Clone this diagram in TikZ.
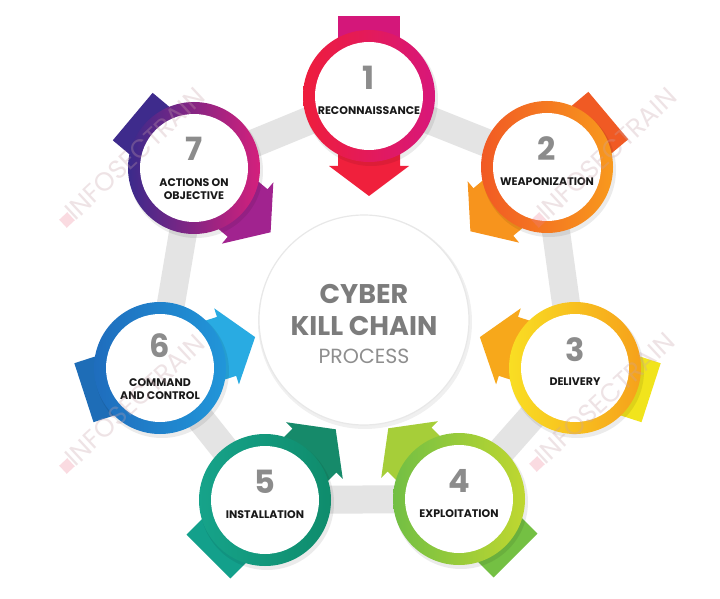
\documentclass[tikz,border=0pt]{standalone}
\usepackage{fontspec}
\setmainfont{Poppins}
\usetikzlibrary{calc}
\definecolor{bandgray}{HTML}{E4E4E4}
\definecolor{numgray}{HTML}{8C8C8C}
\definecolor{titlegray}{HTML}{7C7C7C}
\definecolor{procgray}{HTML}{8E8E8E}
\definecolor{wmcol}{HTML}{C9A3AA}
\definecolor{wmpink}{HTML}{EE7F95}
% ring / head / tail colours
\definecolor{rA1}{HTML}{EE1D3C}\definecolor{rB1}{HTML}{D8177A}\definecolor{h1}{HTML}{F0203C}\definecolor{t1}{HTML}{D4177A}
\definecolor{rA2}{HTML}{F15A24}\definecolor{rB2}{HTML}{F8991D}\definecolor{h2}{HTML}{F7941D}\definecolor{t2}{HTML}{F05A24}
\definecolor{rA3}{HTML}{F9DE23}\definecolor{rB3}{HTML}{F6A11B}\definecolor{h3}{HTML}{F7A81B}\definecolor{t3}{HTML}{F1E41C}
\definecolor{rA4}{HTML}{72BF44}\definecolor{rB4}{HTML}{BFD730}\definecolor{h4}{HTML}{A6CE39}\definecolor{t4}{HTML}{74C043}
\definecolor{rA5}{HTML}{16A38A}\definecolor{rB5}{HTML}{0F8C6C}\definecolor{h5}{HTML}{168A6A}\definecolor{t5}{HTML}{13A08B}
\definecolor{rA6}{HTML}{1F6DBD}\definecolor{rB6}{HTML}{2196D9}\definecolor{h6}{HTML}{29ABE2}\definecolor{t6}{HTML}{1E6DB7}
\definecolor{rA7}{HTML}{3B2A8B}\definecolor{rB7}{HTML}{D4207C}\definecolor{h7}{HTML}{A1238F}\definecolor{t7}{HTML}{3E2B8C}

\tikzset{
  band/.style={line width=28pt, bandgray, line join=round},
  numtext/.style={font=\bfseries\fontsize{32}{32}\selectfont, text=numgray, inner sep=0pt},
  labtext/.style={font=\bfseries\fontsize{11}{13}\selectfont, text=black!90, align=center, inner sep=0pt, anchor=north},
  innerwhite/.style={circle, fill=white, minimum size=108pt, inner sep=0pt},
  wmtext/.style={font=\fontsize{26}{26}\selectfont, text=wmcol, text opacity=0.3, rotate=43, anchor=south west, inner sep=0pt},
  wmlogo/.style={fill=wmpink, opacity=0.28, rotate=43, minimum size=11pt, inner sep=0pt}
}

% #1 id, #2 angle, #3 number, #4 label, #5 number offset
\newcommand\killstage[5]{%
  \begin{scope}[shift={(c#1)}, rotate=#2]
    \fill[t#1] (-80,-31) rectangle (0,31);
    \fill[h#1] (0,-31) -- (70,-31) -- (70,-40) -- (100,0) -- (70,40) -- (70,31) -- (0,31) -- cycle;
  \end{scope}
  \fill[black, opacity=0.08] ([xshift=2pt,yshift=-3pt]c#1) circle (67);
  \shade[left color=rA#1, right color=rB#1] (c#1) circle (66);
  \node[innerwhite] (s#1) at (c#1) {};
  \node[numtext] (n#1) at ([yshift=#5]c#1) {#3};
  \node[labtext] (l#1) at ([yshift=-10pt]c#1) {#4};
}

\begin{document}
\begin{tikzpicture}[x=1pt,y=1pt]
\useasboundingbox (0,0) rectangle (720,598);
\fill[white] (0,0) rectangle (720,598);

\coordinate (c1) at (369,502);
\coordinate (c2) at (547,431);
\coordinate (c3) at (575,230);
\coordinate (c4) at (459,99);
\coordinate (c5) at (265,98);
\coordinate (c6) at (160,230);
\coordinate (c7) at (194,430);

% grey heptagon band
\draw[band] (c1) -- (c2) -- (c3) -- (c4) -- (c5) -- (c6) -- (c7) -- cycle;

% central circle
\fill[black, opacity=0.06] (365,276) circle (107);
\node[circle, fill=white, draw=black!9, line width=1.2pt, minimum size=210pt, inner sep=0pt] (center) at (364,278) {};
\node[font=\bfseries\fontsize{27}{27}\selectfont, text=titlegray, inner sep=0pt] (t1) at (364,304) {CYBER};
\node[font=\bfseries\fontsize{27}{27}\selectfont, text=titlegray, inner sep=0pt] (t2) at (364,272) {KILL CHAIN};
\node[font=\fontsize{20.5}{20.5}\selectfont, text=procgray, inner sep=0pt] (t3) at (364,242) {PROCESS};

% stages
\killstage{1}{270}{1}{RECONNAISSANCE}{18pt}
\killstage{2}{220}{2}{WEAPONIZATION}{18pt}
\killstage{3}{162}{3}{DELIVERY}{18pt}
\killstage{4}{135}{4}{EXPLOITATION}{18pt}
\killstage{5}{45}{5}{INSTALLATION}{18pt}
\killstage{6}{18}{6}{COMMAND\\AND CONTROL}{22pt}
\killstage{7}{-40}{7}{ACTIONS ON\\OBJECTIVE}{19pt}

% watermarks
\node[wmlogo] (g1) at (67,378) {};
\node[wmtext] (w1) at (76,376) {INFOSECTRAIN};
\node[wmlogo] (g2) at (539,378) {};
\node[wmtext] (w2) at (548,376) {INFOSECTRAIN};
\node[wmlogo] (g3) at (67,132) {};
\node[wmtext] (w3) at (76,130) {INFOSECTRAIN};
\node[wmlogo] (g4) at (537,134) {};
\node[wmtext] (w4) at (546,132) {INFOSECTRAIN};
\end{tikzpicture}
\end{document}
